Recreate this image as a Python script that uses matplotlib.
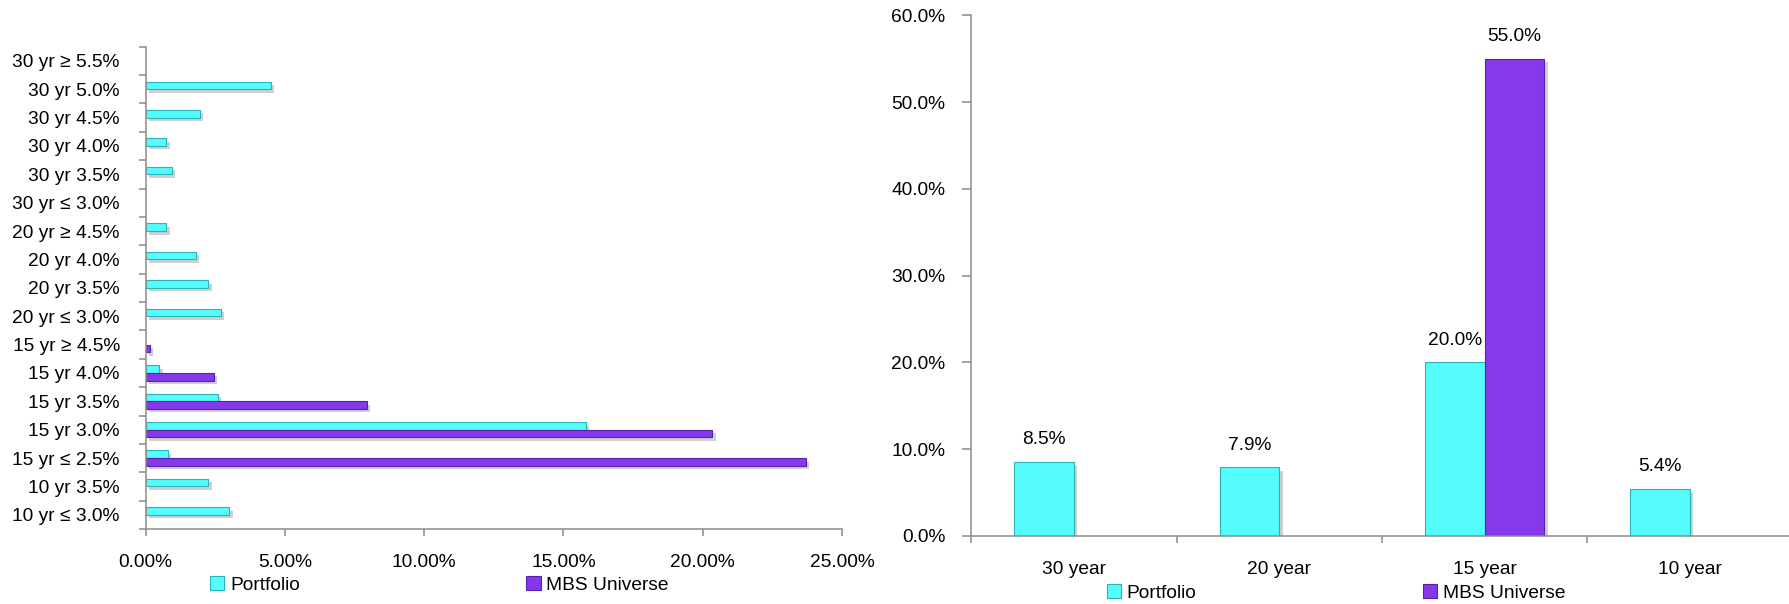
import numpy as np
import matplotlib
matplotlib.use('Agg')
import matplotlib.pyplot as plt
import matplotlib.patheffects as pe
from matplotlib.patches import Patch

plt.rcParams['font.family'] = ['Liberation Sans', 'DejaVu Sans']
plt.rcParams['font.size'] = 13.8

# ====================
# DATOS
# ====================

# Desglose por cupón (de arriba hacia abajo), en %
cupones = ['30 yr ≥ 5.5%', '30 yr 5.0%', '30 yr 4.5%', '30 yr 4.0%', '30 yr 3.5%',
           '30 yr ≤ 3.0%', '20 yr ≥ 4.5%', '20 yr 4.0%', '20 yr 3.5%', '20 yr ≤ 3.0%',
           '15 yr ≥ 4.5%', '15 yr 4.0%', '15 yr 3.5%', '15 yr 3.0%', '15 yr ≤ 2.5%',
           '10 yr 3.5%', '10 yr ≤ 3.0%']
cupon_portfolio = [0.0, 4.5, 1.95, 0.75, 0.95, 0.0, 0.75, 1.8, 2.25, 2.7,
                   0.0, 0.5, 2.6, 15.8, 0.8, 2.25, 3.0]
cupon_mbs = [0.0, 0.0, 0.0, 0.0, 0.0, 0.0, 0.0, 0.0, 0.0, 0.0,
             0.15, 2.45, 7.95, 20.35, 23.7, 0.0, 0.0]
ticks_x_cupon = [0, 5, 10, 15, 20, 25]

# Desglose por plazo, en %
plazos = ['30 year', '20 year', '15 year', '10 year']
plazo_portfolio = [8.5, 7.9, 20.0, 5.4]
plazo_mbs = [0.0, 0.0, 55.0, 0.0]
ticks_y_plazo = [0, 10, 20, 30, 40, 50, 60]

# ====================
# ESTILO
# ====================

CIAN = '#55FCFC'
CIAN_BORDE = '#2BB3B8'
MORADO = '#8639EA'
MORADO_BORDE = '#5B20A8'
GRIS = '#8C8C8C'

sombra = [pe.SimplePatchShadow(offset=(2.5, -2.5), shadow_rgbFace='#777777', alpha=0.35),
          pe.Normal()]

fig = plt.figure(figsize=(17.89, 6.04), dpi=100)


def ejes_grises(ax):
    for lado in ['top', 'right']:
        ax.spines[lado].set_visible(False)
    for lado in ['left', 'bottom']:
        ax.spines[lado].set_color(GRIS)
        ax.spines[lado].set_linewidth(1.1)


def leyenda(ax, x0, y0):
    manejadores = [Patch(facecolor=CIAN, edgecolor=CIAN_BORDE, linewidth=0.8, label='Portfolio'),
                   Patch(facecolor=MORADO, edgecolor=MORADO_BORDE, linewidth=0.8, label='MBS Universe')]
    ax.legend(handles=manejadores, loc='center left', ncol=2, frameon=False,
              bbox_to_anchor=(x0 / 1789, 1 - y0 / 604), bbox_transform=fig.transFigure,
              borderpad=0, borderaxespad=0, handlelength=0.75, handleheight=0.75,
              handletextpad=0.3, columnspacing=11.8)


# ====================
# GRÁFICO IZQUIERDO: BARRAS HORIZONTALES POR CUPÓN
# ====================

ax1 = fig.add_axes([145.5 / 1789, 75 / 604, 696.5 / 1789, 482.3 / 604])
y = np.arange(len(cupones))
alto = 0.27

b1 = ax1.barh(y - alto / 2, cupon_portfolio, height=alto, color=CIAN,
              edgecolor=CIAN_BORDE, linewidth=0.8)
b2 = ax1.barh(y + alto / 2, cupon_mbs, height=alto, color=MORADO,
              edgecolor=MORADO_BORDE, linewidth=0.8)
for barra in list(b1) + list(b2):
    if barra.get_width() > 0:
        barra.set_path_effects(sombra)
    else:
        barra.set_visible(False)

ax1.set_ylim(len(cupones) - 0.5, -0.5)
ax1.set_xlim(0, 25)
ax1.set_yticks(y, cupones)
ax1.set_yticks(np.arange(-0.5, len(cupones), 1), minor=True)
ax1.tick_params(axis='y', which='major', length=0, pad=18.5)
ax1.tick_params(axis='y', which='minor', length=5.3, width=1.1, color=GRIS)
ax1.set_xticks(ticks_x_cupon, [f'{v:.2f}%' for v in ticks_x_cupon])
ax1.tick_params(axis='x', length=5, width=1.1, color=GRIS, pad=13)
ejes_grises(ax1)
leyenda(ax1, 210, 585)

# ====================
# GRÁFICO DERECHO: BARRAS VERTICALES POR PLAZO
# ====================

ax2 = fig.add_axes([971.3 / 1789, 68 / 604, 821.3 / 1789, 520.7 / 604])
x = np.arange(len(plazos))
ancho = 0.29

c1 = ax2.bar(x - ancho / 2, plazo_portfolio, width=ancho, color=CIAN,
             edgecolor=CIAN_BORDE, linewidth=0.8)
c2 = ax2.bar(x + ancho / 2, plazo_mbs, width=ancho, color=MORADO,
             edgecolor=MORADO_BORDE, linewidth=0.8)
for contenedor in [c1, c2]:
    for barra in contenedor:
        alto_barra = barra.get_height()
        if alto_barra > 0:
            barra.set_path_effects(sombra)
            ax2.annotate(f'{alto_barra:.1f}%',
                         (barra.get_x() + barra.get_width() / 2, alto_barra),
                         xytext=(0, 10), textcoords='offset points',
                         ha='center', va='bottom')
        else:
            barra.set_visible(False)

ax2.set_xlim(-0.5, len(plazos) - 0.5)
ax2.set_ylim(0, 60)
ax2.set_xticks(x, plazos)
ax2.set_xticks(np.arange(-0.5, len(plazos), 1), minor=True)
ax2.tick_params(axis='x', which='major', length=0, pad=18)
ax2.tick_params(axis='x', which='minor', length=4.8, width=1.1, color=GRIS)
ax2.set_yticks(ticks_y_plazo, [f'{v:.1f}%' for v in ticks_y_plazo])
ax2.tick_params(axis='y', length=6.7, width=1.1, color=GRIS, pad=12)
ejes_grises(ax2)
leyenda(ax2, 1106.7, 593)

plt.savefig('out.png', dpi=100)
